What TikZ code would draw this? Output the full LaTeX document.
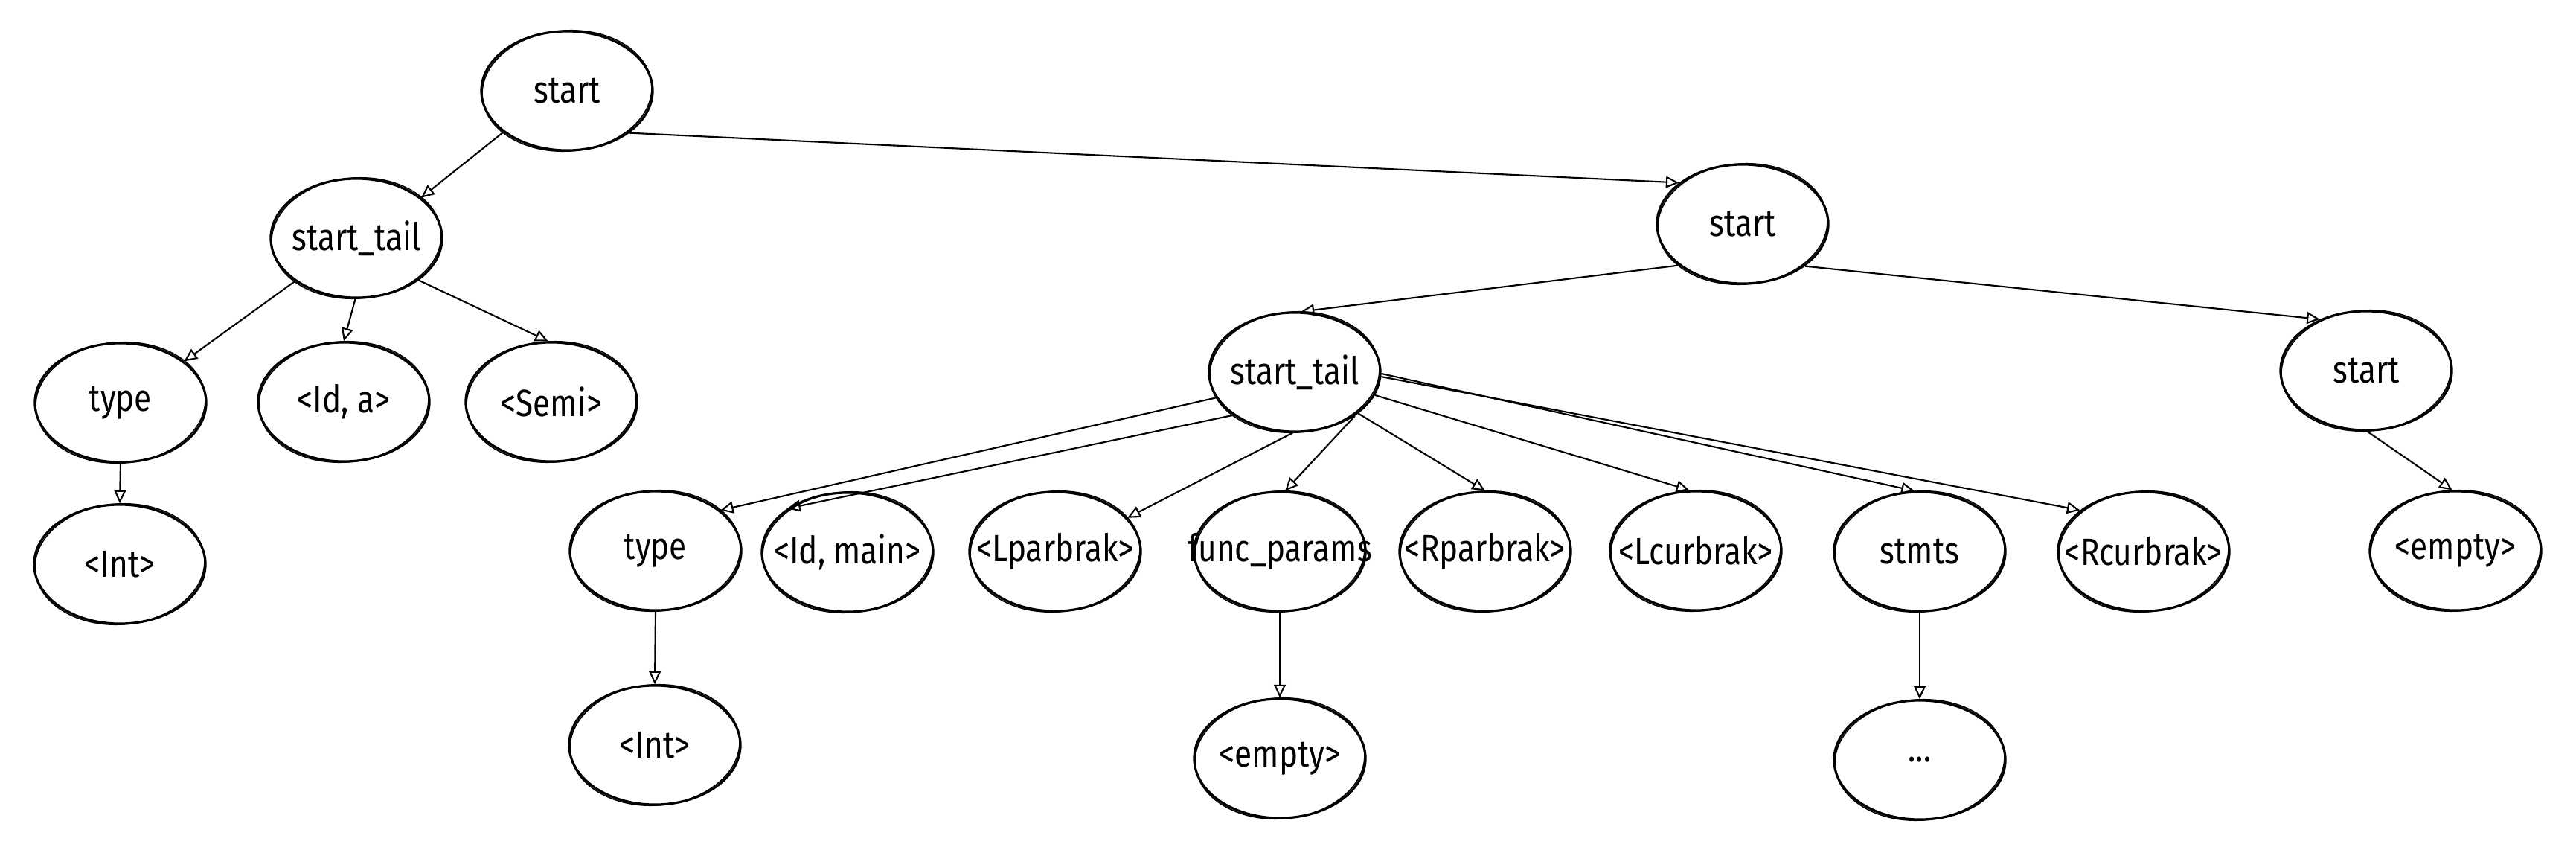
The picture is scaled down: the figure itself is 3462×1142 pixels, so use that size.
\documentclass[tikz,border=0pt]{standalone}
\usepackage{fontspec}
\setmainfont{Fira Sans}[FakeStretch=0.83]
\usetikzlibrary{arrows.meta,shapes.geometric}
\begin{document}
\begin{tikzpicture}[x=0.01cm,y=-0.01cm,
  nd/.style={ellipse, draw, line width=0.9pt, minimum width=2.3cm, minimum height=1.6cm,
    inner xsep=-22pt, inner ysep=0pt, font=\fontsize{14.5}{16}\selectfont},
  sk/.style={line width=0.45pt},
  arr/.style={-{Triangle[open,length=5pt,width=4.5pt]}, line width=0.6pt}]
\useasboundingbox (0,0) rectangle (3462,1142);
% nodes
\node[nd] (s1) at (762,122) {start};
\node[nd] (t1) at (479,320) {start\_tail};
\node[nd] (ty1) at (162,541) {type};
\node[nd] (ida) at (462,540) {<Id, a>};
\node[nd] (semi) at (741,540) {<Semi>};
\node[nd] (int1) at (161,758) {<Int>};
\node[nd] (s2) at (2342,301) {start};
\node[nd] (t2) at (1740,500) {start\_tail};
\node[nd] (s3) at (3180,498) {start};
\node[nd] (ty2) at (881,740) {type};
\node[nd] (idm) at (1139,742) {<Id, main>};
\node[nd] (lp) at (1418,741) {<Lparbrak>};
\node[nd] (fp) at (1720,741) {func\_params};
\node[nd] (rp) at (1996,741) {<Rparbrak>};
\node[nd] (lc) at (2279,740) {<Lcurbrak>};
\node[nd] (st) at (2580,741) {stmts};
\node[nd] (rc) at (2881,741) {<Rcurbrak>};
\node[nd] (e3) at (3300,740) {<empty>};
\node[nd] (int2) at (880,1001) {<Int>};
\node[nd] (e2) at (1720,1019) {<empty>};
\node[nd] (dots) at (2580,1021) {...};
% sketchy second stroke
\foreach \n in {s1,t1,ty1,ida,semi,int1,s2,t2,s3,ty2,idm,lp,fp,rp,lc,st,rc,e3,int2,e2,dots}
  \draw[sk, rotate around={4:(\n.center)}] (\n.center) ellipse [x radius=1.14cm, y radius=0.81cm];
% edges
\draw[arr] (s1.-147) -- (t1.32);
\draw[arr] (s1.-34) -- (s2.147);
\draw[arr] (t1.-145) -- (ty1.33);
\draw[arr] (t1.-91) -- (ida.90);
\draw[arr] (t1.-34) -- (semi.93);
\draw[arr] (ty1.-90) -- (int1.90);
\draw[arr] (s2.-147) -- (t2.84);
\draw[arr] (s2.-34) -- (s3.132);
\draw[arr] (t2.-162) -- (ty2.32);
\draw[arr] (t2.-145) -- (idm.144);
\draw[arr] (t2.-92) -- (lp.25);
\draw[arr] (t2.-36) -- (fp.85);
\draw[arr] (t2.-33) -- (rp.90);
\draw[arr] (t2.-16) -- (lc.96);
\draw[arr] (t2.-1) -- (st.95);
\draw[arr] (t2.-3) -- (rc.147);
\draw[arr] (s3.-89) -- (e3.93);
\draw[arr] (ty2.-90) -- (int2.90);
\draw[arr] (fp.-90) -- (e2.90);
\draw[arr] (st.-90) -- (dots.90);
\end{tikzpicture}
\end{document}
